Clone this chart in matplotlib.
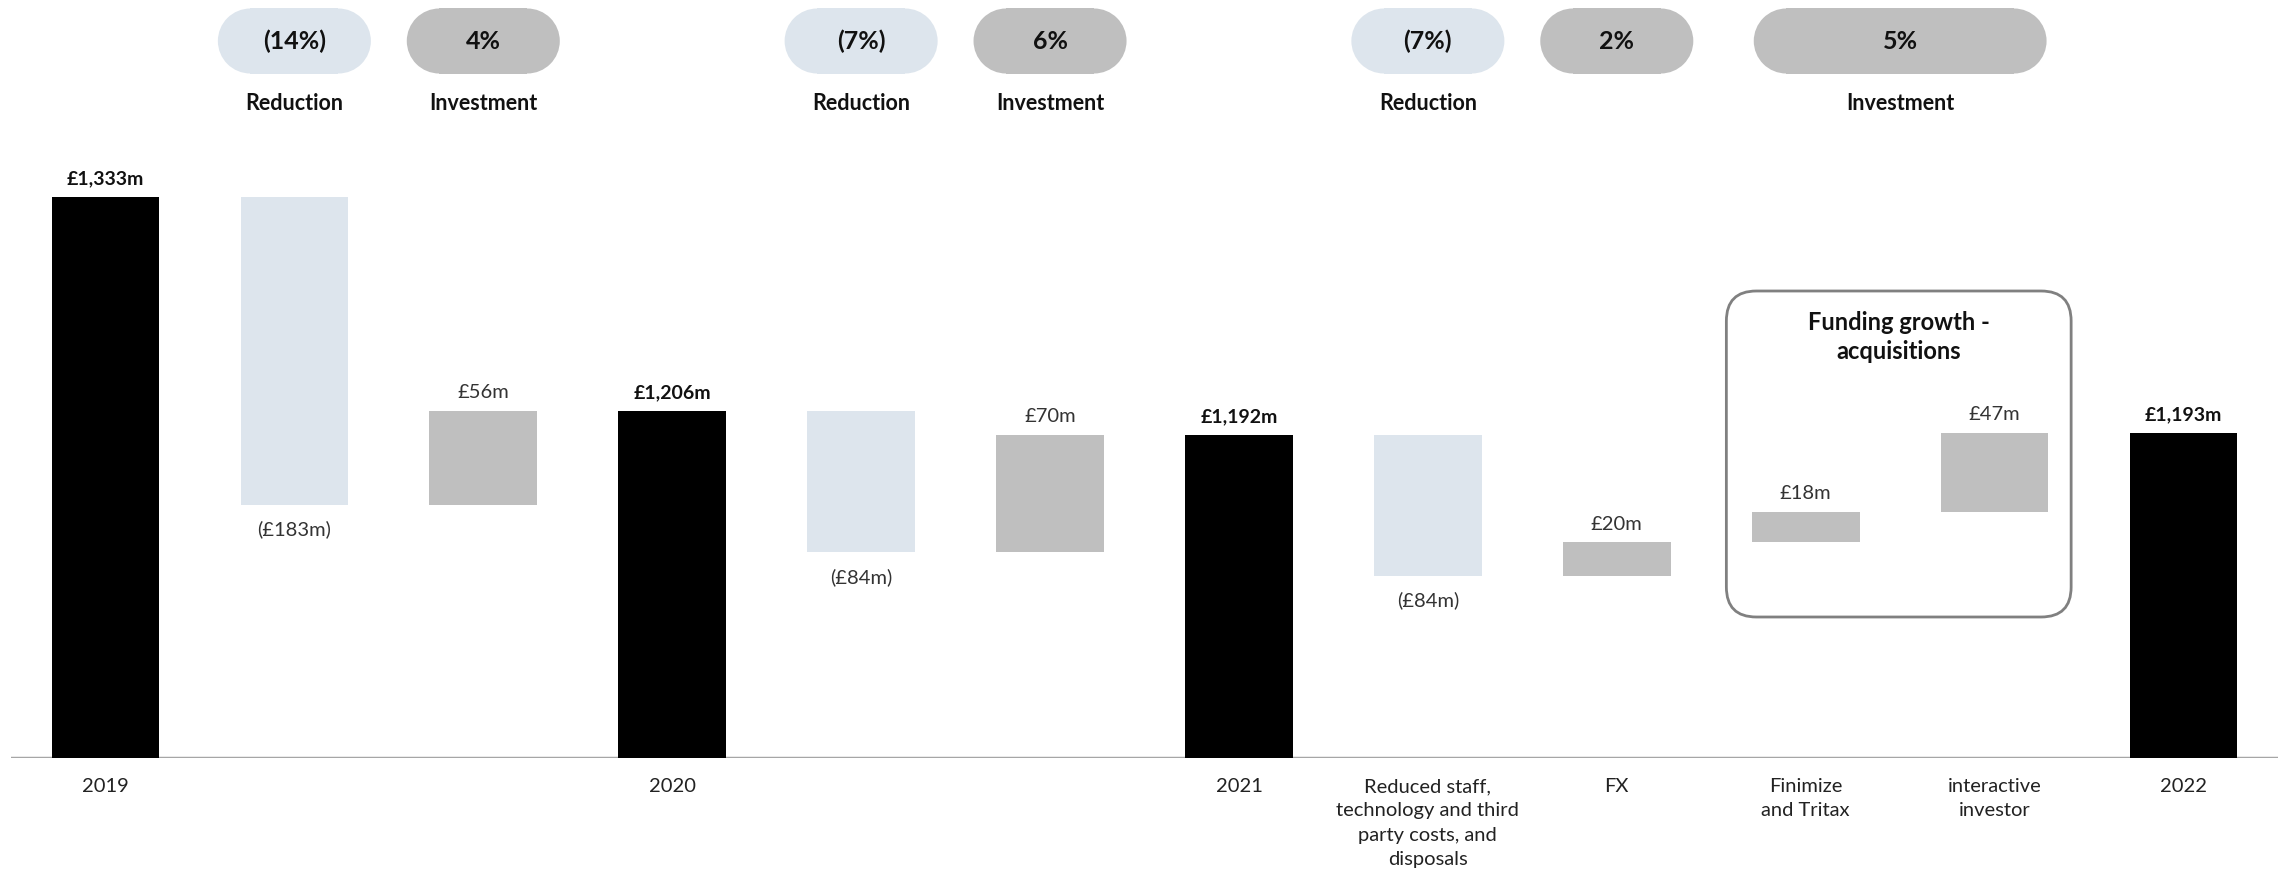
import matplotlib
matplotlib.use("Agg")
import matplotlib.pyplot as plt
from matplotlib.patches import FancyBboxPatch, Rectangle, Ellipse

plt.rcParams['font.family'] = ['Lato', 'DejaVu Sans']

# --- data ---
categories = ["2019", "", "", "2020", "", "", "2021",
              "Reduced staff,\ntechnology and third\nparty costs, and\ndisposals",
              "FX", "Finimize\nand Tritax", "interactive\ninvestor", "2022"]
kinds = ["total", "reduction", "investment", "total", "reduction", "investment", "total",
         "reduction", "investment", "investment", "investment", "total"]
values = [1333, -183, 56, 1206, -84, 70, 1192, -84, 20, 18, 47, 1193]
value_labels = ["£1,333m", "(£183m)", "£56m", "£1,206m", "(£84m)", "£70m", "£1,192m",
                "(£84m)", "£20m", "£18m", "£47m", "£1,193m"]

pill_texts = ["(14%)", "4%", "(7%)", "6%", "(7%)", "2%", "5%"]
pill_kinds = ["reduction", "investment", "reduction", "investment",
              "reduction", "investment", "investment"]
pill_centres = [1, 2, 4, 5, 7, 8, 9.5]
pill_widths = [0.81, 0.81, 0.81, 0.81, 0.81, 0.81, 1.55]
pill_captions = ["Reduction", "Investment", "Reduction", "Investment",
                 "Reduction", "", "Investment"]

box_title = "Funding growth -\nacquisitions"

colours = {"total": "#000000", "reduction": "#dde5ed", "investment": "#bfbfbf"}

# --- figure ---
W, H = 2282, 871
fig = plt.figure(figsize=(W / 100, H / 100), dpi=100)
ax = fig.add_axes([11 / W, 113 / H, 2267 / W, 758 / H])
ax.set_xlim(-0.5, 11.5)
ax.set_ylim(1000, 1450)
ax.axis("off")

# data units per pixel, used for rounded shapes
px_x = 12 / 2267
px_y = 450 / 758
aspect = px_y / px_x

running = 0
for i, (k, v, lab) in enumerate(zip(kinds, values, value_labels)):
    if k == "total":
        bottom, height = 0, v
        running = v
    else:
        bottom, height = running, v
        running += v
    ax.bar(i, height, bottom=bottom, width=0.57, color=colours[k], zorder=2)
    top = max(bottom, bottom + height)
    low = min(bottom, bottom + height)
    if v < 0:
        ax.annotate(lab, (i, low), xytext=(0, -11), textcoords="offset points",
                    ha="center", va="top", fontsize=14.5, color="#333333")
    else:
        ax.annotate(lab, (i, top), xytext=(0, 7), textcoords="offset points",
                    ha="center", va="bottom", fontsize=14 if k == "total" else 14.5,
                    color="#111111" if k == "total" else "#333333",
                    fontweight="bold" if k == "total" else "normal")

ax.axhline(1000, color="#a6a6a6", lw=2.5, zorder=1)

# category labels
for i, c in enumerate(categories):
    ax.text(i, 1000 - 20 * px_y, c, ha="center", va="top", fontsize=14.5,
            color="#222222", linespacing=1.52, clip_on=False)

# pills on top (rectangle + two circular ends)
pill_h = 65 * px_y
pill_y = 1000 + (758 - 41) * px_y
end_w = pill_h / aspect
for t, k, cx, w, cap in zip(pill_texts, pill_kinds, pill_centres, pill_widths, pill_captions):
    x0, x1 = cx - w / 2 + end_w / 2, cx + w / 2 - end_w / 2
    ax.add_patch(Rectangle((x0, pill_y - pill_h / 2), x1 - x0, pill_h,
                           fc=colours[k], ec="none", clip_on=False))
    for ex in (x0, x1):
        ax.add_patch(Ellipse((ex, pill_y), end_w, pill_h, fc=colours[k], ec="none",
                             clip_on=False))
    ax.text(cx, pill_y, t, ha="center", va="center", fontsize=18, fontweight="bold",
            color="#111111")
    if cap:
        ax.text(cx, 1000 + (758 - 103) * px_y, cap, ha="center", va="center",
                fontsize=15.5, fontweight="bold", color="#111111")

# acquisitions box
bx0, bx1 = 8.58, 10.405
by0, by1 = 1000 + (758 - 617) * px_y, 1000 + (758 - 291) * px_y
rr = 30 * px_x
box = FancyBboxPatch((bx0, by0), bx1 - bx0, by1 - by0,
                     boxstyle=f"round,pad=0,rounding_size={rr}",
                     mutation_aspect=aspect, fc="none", ec="#808080", lw=2, zorder=3)
ax.add_patch(box)
ax.text((bx0 + bx1) / 2, 1000 + (758 - 337) * px_y, box_title, ha="center", va="center",
        fontsize=17, fontweight="bold", color="#111111", linespacing=1.35)

fig.savefig("out.png", dpi=100)
